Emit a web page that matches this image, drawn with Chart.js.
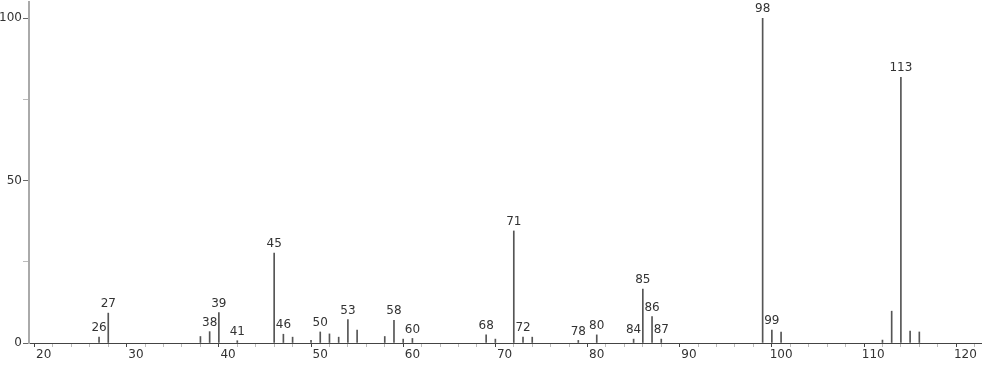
<!DOCTYPE html>
<html>
<head>
<meta charset="utf-8">
<script src="https://cdn.jsdelivr.net/npm/chart.js@4.4.1/dist/chart.umd.min.js"></script>
<style>
  html, body { margin: 0; padding: 0; background: #fff; }
  #wrap { width: 982px; height: 365px; }
</style>
</head>
<body>
<div id="wrap"><canvas id="msChart" width="982" height="365"></canvas></div>
<script>
// m/z values and relative intensities (%)
const mz = [26, 27, 37, 38, 39, 41, 45, 46, 47, 49, 50, 51, 52, 53, 54, 57, 58, 59, 60,
  68, 69, 71, 72, 73, 78, 80, 84, 85, 86, 87, 98, 99, 100, 111, 112, 113, 114, 115];
const intensity = [1.8, 9.2, 2.0, 3.5, 9.4, 0.7, 27.7, 2.7, 1.8, 0.8, 3.4, 2.8, 1.8, 7.2, 4.0, 2.0, 7.0, 1.2, 1.4,
  2.5, 1.2, 34.5, 1.8, 1.8, 0.8, 2.5, 1.2, 16.6, 8.1, 1.2, 100, 4.0, 3.4, 0.9, 9.8, 81.8, 3.7, 3.4];
// peaks that get a label
const labelledPeaks = [26, 27, 38, 39, 41, 45, 46, 50, 53, 58, 60, 68, 71, 72, 78, 80, 84, 85, 86, 87, 98, 99, 113];
const xTickValues = [20, 30, 40, 50, 60, 70, 80, 90, 100, 110, 120];
const yTickLabels = [0, 50, 100];

const FONT = '"DejaVu Sans", sans-serif';

const points = mz.map((m, i) => ({ x: m, y: intensity[i] }));

// peak labels above each labelled stick
const peakLabels = {
  id: 'peakLabels',
  afterDatasetsDraw(chart) {
    const { ctx, scales: { x, y } } = chart;
    ctx.save();
    ctx.font = '12px ' + FONT;
    ctx.fillStyle = '#333';
    ctx.textAlign = 'center';
    ctx.textBaseline = 'bottom';
    labelledPeaks.forEach(m => {
      const i = mz.indexOf(m);
      ctx.fillText(String(m), x.getPixelForValue(m), y.getPixelForValue(intensity[i]) - 3);
    });
    ctx.restore();
  }
};

new Chart(document.getElementById('msChart').getContext('2d'), {
  type: 'bar',
  data: {
    datasets: [{
      data: points,
      backgroundColor: '#555',
      borderWidth: 0,
      barThickness: 1,
    }],
  },
  options: {
    responsive: false,
    animation: false,
    layout: { padding: { top: 2, right: 0, left: 0, bottom: 0 } },
    plugins: { legend: { display: false }, tooltip: { enabled: false } },
    scales: {
      x: {
        type: 'linear',
        offset: false,
        min: 18.4,
        max: 121.8,
        border: { color: '#444', width: 1 },
        grid: {
          drawOnChartArea: false,
          drawTicks: true,
          tickLength: 4,
          tickColor: c => (c.tick && c.tick.value % 10 === 0) ? '#444' : '#bbb',
        },
        ticks: {
          autoSkip: false,
          maxRotation: 0,
          padding: 1,
          color: '#333',
          font: { family: FONT, size: 12 },
          callback: v => (xTickValues.includes(v) ? String(v) : ''),
        },
        // ticks every 2 units, labels every 10
        afterBuildTicks: s => {
          const t = [];
          for (let v = 20; v <= 120; v += 2) t.push({ value: v });
          s.ticks = t;
        },
        afterFit: s => { s.height = 22; s.paddingLeft = 0; s.paddingRight = 0; },
      },
      y: {
        min: 0,
        max: 105,
        border: { color: '#aaa', width: 2 },
        grid: {
          drawOnChartArea: false,
          drawTicks: true,
          tickLength: 6,
          tickColor: c => (c.tick && yTickLabels.includes(c.tick.value)) ? '#666' : '#bbb',
        },
        ticks: {
          padding: 1,
          color: '#333',
          font: { family: FONT, size: 12 },
          callback: v => (yTickLabels.includes(v) ? String(v) : ''),
        },
        afterBuildTicks: s => {
          s.ticks = [0, 25, 50, 75, 100].map(v => ({ value: v }));
        },
        afterFit: s => { s.width = 29; s.paddingTop = 0; s.paddingBottom = 0; },
      },
    },
  },
  plugins: [peakLabels],
});
</script>
</body>
</html>
